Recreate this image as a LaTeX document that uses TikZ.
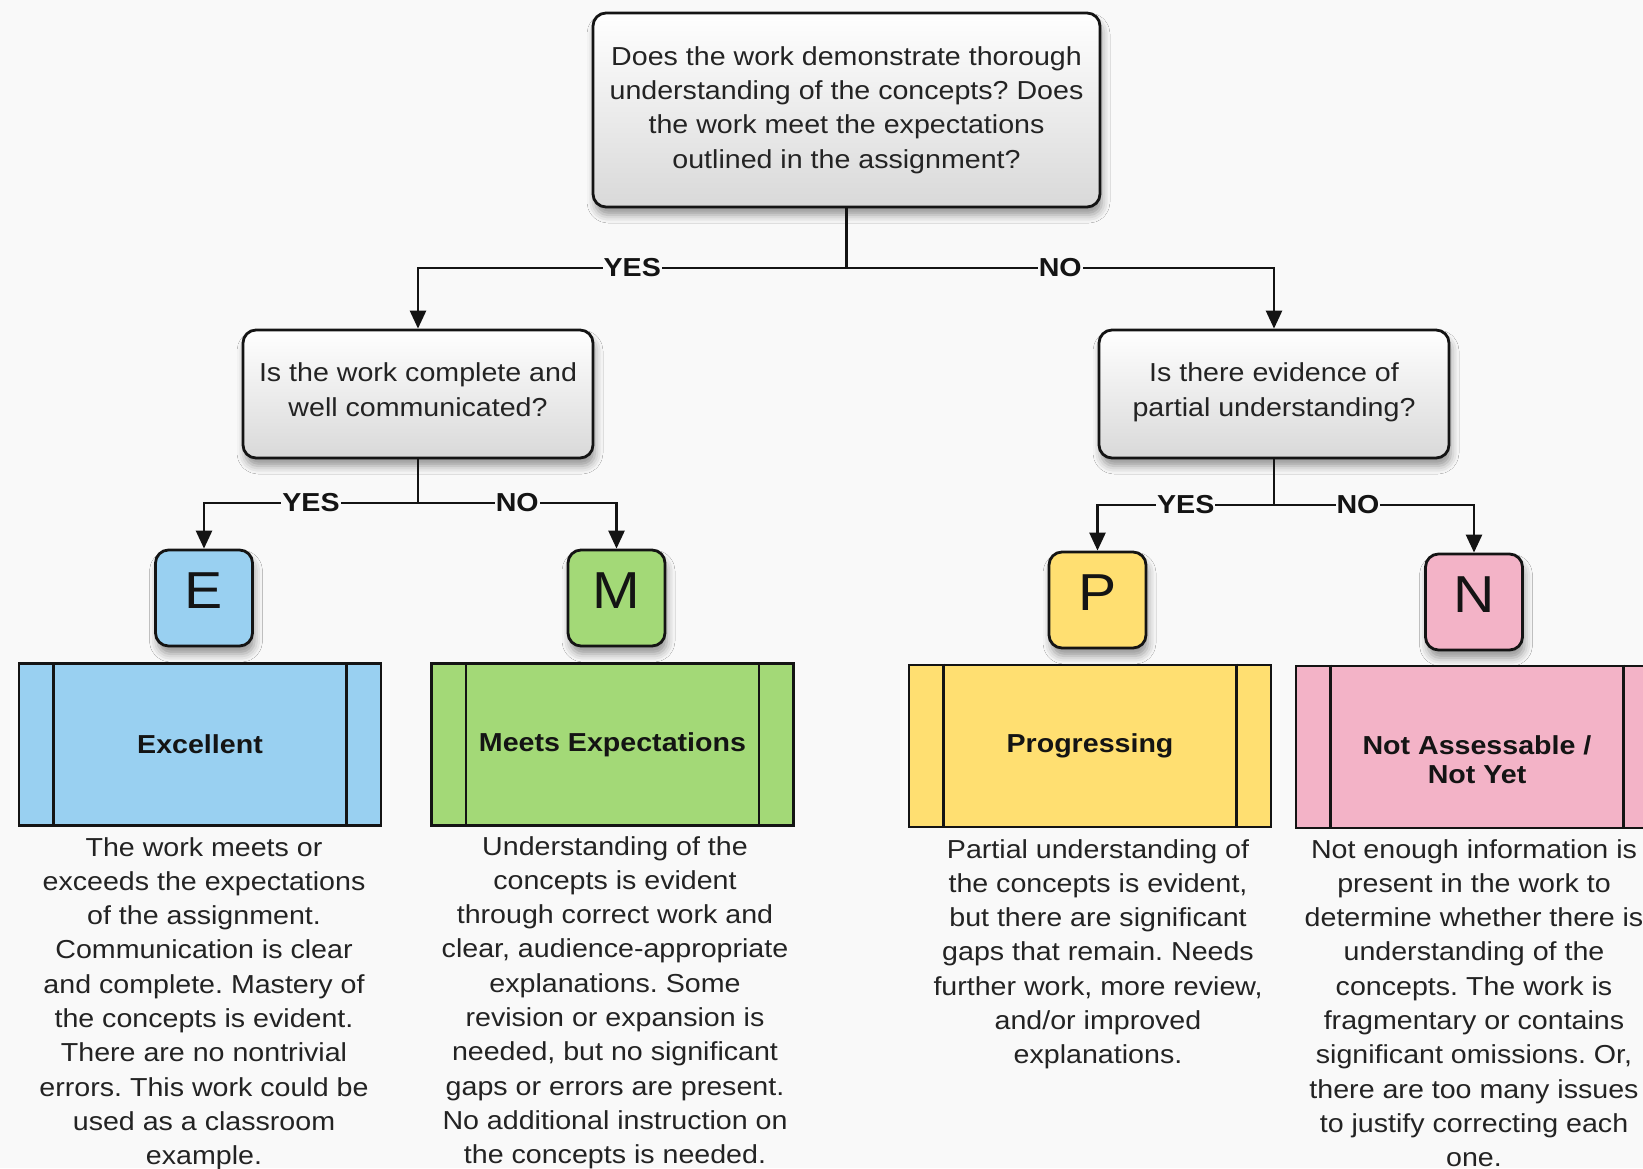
\documentclass[tikz,border=0pt]{standalone}
\usepackage{fontspec}
\setmainfont{Liberation Sans}[FakeStretch=1.1]
\usetikzlibrary{arrows.meta,shadows.blur}
\frenchspacing
\definecolor{bg}{RGB}{249,249,249}
\definecolor{cblue}{RGB}{153,208,241}
\definecolor{cgreen}{RGB}{163,217,119}
\definecolor{cyellow}{RGB}{255,223,113}
\definecolor{cpink}{RGB}{243,179,199}
\definecolor{ink}{RGB}{20,20,20}
\definecolor{txt}{RGB}{35,35,35}
\newcommand{\shifted}[2]{\raisebox{#1}[0pt][0pt]{#2}}
\tikzset{
  softshadow/.style={blur shadow={shadow xshift=2pt, shadow yshift=-8pt, shadow blur radius=8pt, shadow opacity=40}},
  question/.style={draw=ink, line width=2.8pt, rounded corners=13pt, top color=white, bottom color=black!15, softshadow,
    align=center, text=txt, font=\fontsize{26}{34.3}\selectfont, inner sep=0pt},
  letter/.style={draw=ink, line width=2.8pt, rounded corners=13pt, softshadow, minimum width=97pt, minimum height=96pt,
    inner sep=0pt, font=\fontsize{52}{60}\selectfont, text=ink},
  category/.style={draw=ink, line width=2.8pt, minimum width=362pt, minimum height=162pt, inner sep=0pt,
    align=center, font=\bfseries\fontsize{26}{29}\selectfont, text=ink},
  desc/.style={anchor=north, align=center, inner sep=0pt, text=txt, font=\fontsize{26}{34.3}\selectfont},
  conn/.style={draw=ink, line width=2.6pt},
  arr/.style={conn, -{Triangle[length=18pt,width=16pt]}},
  lab/.style={fill=bg, inner sep=1pt, text=ink, font=\bfseries\fontsize{26}{28}\selectfont},
}
\begin{document}
\begin{tikzpicture}[x=1pt,y=-1pt]
\useasboundingbox (0,0) rectangle (1643,1168);
\fill[bg] (0,0) rectangle (1643,1168);
\clip (0,0) rectangle (1643,1168);

% question boxes
\node[question, minimum width=507pt, minimum height=194pt] (top) at (846.5,110)
  {Does the work demonstrate thorough\\understanding of the concepts? Does\\the work meet the expectations\\outlined in the assignment?};
\node[question, minimum width=350pt, minimum height=128pt] (lq) at (418,394)
  {\shifted{-4.3pt}{\begin{tabular}{@{}c@{}}Is the work complete and\\well communicated?\end{tabular}}};
\node[question, minimum width=350pt, minimum height=128pt] (rq) at (1274,394)
  {\shifted{-4.3pt}{\begin{tabular}{@{}c@{}}Is there evidence of\\partial understanding?\end{tabular}}};

% letter boxes
\node[letter, fill=cblue] (E) at (204,598) {\shifted{-10.6pt}{E}};
\node[letter, fill=cgreen] (M) at (616.5,598) {\shifted{-10.6pt}{M}};
\node[letter, fill=cyellow] (P) at (1097.5,600) {\shifted{-10.6pt}{P}};
\node[letter, fill=cpink] (N) at (1474,602) {\shifted{-10.6pt}{N}};

% category boxes
\node[category, fill=cblue] (cE) at (200,744.5) {Excellent};
\node[category, fill=cgreen] (cM) at (612.5,744.5) {Meets Expectations};
\node[category, fill=cyellow] (cP) at (1090,746) {Progressing};
\node[category, fill=cpink] (cN) at (1477,747) {\shifted{-22pt}{\begin{tabular}{@{}c@{}}Not Assessable /\\Not Yet\end{tabular}}};
\foreach \c in {cE,cM,cP,cN}{
  \draw[conn, line width=2.4pt] ([xshift=36pt]\c.north west) -- ([xshift=36pt]\c.south west);
  \draw[conn, line width=2.4pt] ([xshift=-36pt]\c.north east) -- ([xshift=-36pt]\c.south east);
}

% connectors
\coordinate (j0) at (846.5,268);
\coordinate (j1) at (418,503);
\coordinate (j2) at (1274,505);
\draw[conn] (top.south) -- (j0);
\draw[arr] (j0) -| node[lab, pos=0.25] {YES} (lq.north);
\draw[arr] (j0) -| node[lab, pos=0.25] {NO} (rq.north);
\draw[conn] (lq.south) -- (j1);
\draw[arr] (j1) -| node[lab, pos=0.25] {YES} (E.north);
\draw[arr] (j1) -| node[lab, pos=0.25] {NO} (M.north);
\draw[conn] (rq.south) -- (j2);
\draw[arr] (j2) -| node[lab, pos=0.25] {YES} (P.north);
\draw[arr] (j2) -| node[lab, pos=0.21] {NO} (N.north);

% descriptions
\node[desc] (dE) at (204,837) {The work meets or\\exceeds the expectations\\of the assignment.\\Communication is clear\\and complete. Mastery of\\the concepts is evident.\\There are no nontrivial\\errors. This work could be\\used as a classroom\\example.};
\node[desc] (dM) at (615,836) {Understanding of the\\concepts is evident\\through correct work and\\clear, audience-appropriate\\explanations. Some\\revision or expansion is\\needed, but no significant\\gaps or errors are present.\\No additional instruction on\\the concepts is needed.};
\node[desc] (dP) at (1098,839) {Partial understanding of\\the concepts is evident,\\but there are significant\\gaps that remain. Needs\\further work, more review,\\and/or improved\\explanations.};
\node[desc] (dN) at (1474,839) {Not enough information is\\present in the work to\\determine whether there is\\understanding of the\\concepts. The work is\\fragmentary or contains\\significant omissions. Or,\\there are too many issues\\to justify correcting each\\one.};
\end{tikzpicture}
\end{document}
